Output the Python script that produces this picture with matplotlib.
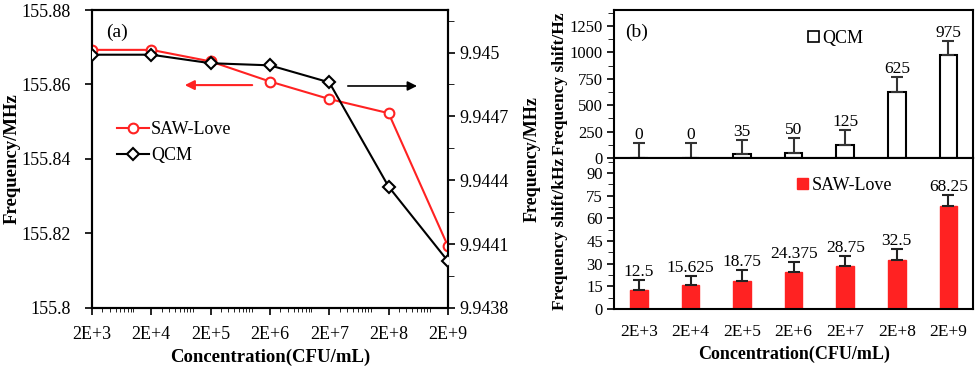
import matplotlib
matplotlib.use('Agg')
import matplotlib.pyplot as plt
from matplotlib.ticker import FixedLocator, MultipleLocator, FuncFormatter, LogLocator, NullFormatter
from matplotlib.patches import Patch
from matplotlib.lines import Line2D

plt.rcParams['font.family'] = ['Liberation Serif', 'DejaVu Serif']

# data
conc = [2e3, 2e4, 2e5, 2e6, 2e7, 2e8, 2e9]
conc_labels = ['2E+3', '2E+4', '2E+5', '2E+6', '2E+7', '2E+8', '2E+9']
saw_freq = [155.8693, 155.8693, 155.8662, 155.8608, 155.8561, 155.8523, 155.8166]
qcm_freq = [9.94499, 9.94499, 9.94495, 9.94494, 9.94486, 9.94437, 9.94402]

qcm_shift = [0, 0, 35, 50, 125, 625, 975]
qcm_err = [145, 145, 140, 143, 140, 138, 135]
saw_shift = [12.5, 15.625, 18.75, 24.375, 28.75, 32.5, 68.25]
saw_err = [7, 6.5, 7, 6.5, 6.5, 7, 7]

RED = '#ff2222'
fmt_g = FuncFormatter(lambda v, p: '%g' % round(v, 6))

fig = plt.figure(figsize=(9.78, 3.71), dpi=100)

# ---- panel (a)
ax1 = fig.add_axes([0.094, 0.170, 0.364, 0.803])
ax2 = ax1.twinx()
ax1.plot(conc, saw_freq, '-o', color=RED, lw=1.5, ms=7, mfc='white', mew=1.5, zorder=3)
ax2.plot(conc, qcm_freq, '-D', color='black', lw=1.5, ms=6, mfc='white', mew=1.5, zorder=3)
ax1.set_xscale('log')
ax1.set_xlim(2e3, 2e9)
ax1.xaxis.set_major_locator(FixedLocator(conc))
ax1.xaxis.set_minor_locator(LogLocator(base=10, subs=range(1, 10), numticks=30))
ax1.xaxis.set_minor_formatter(NullFormatter())
ax1.set_xticklabels(conc_labels)
ax1.set_ylim(155.8, 155.88)
ax1.yaxis.set_major_locator(MultipleLocator(0.02))
ax1.yaxis.set_major_formatter(fmt_g)
ax2.set_ylim(9.9438, 9.9452)
ax2.yaxis.set_major_locator(MultipleLocator(0.0003))
ax2.yaxis.set_minor_locator(MultipleLocator(0.00015))
ax2.yaxis.set_major_formatter(fmt_g)
for a in (ax1, ax2):
    a.tick_params(labelsize=13, width=1.2)
    for s in a.spines.values():
        s.set_linewidth(1.5)
ax1.tick_params(axis='x', which='major', length=5, pad=8)
ax1.tick_params(axis='x', which='minor', length=3)
ax1.tick_params(axis='y', which='major', length=5, pad=10)
ax2.tick_params(axis='y', which='major', length=5)
ax2.tick_params(axis='y', which='minor', length=4)
ax1.set_xlabel('Concentration(CFU/mL)', fontsize=13.5, fontweight='bold')
ax1.xaxis.set_label_coords(0.5, -0.138)
ax1.set_ylabel('Frequency/MHz', fontsize=13.5, fontweight='bold')
ax1.yaxis.set_label_coords(-0.2, 0.5)
ax2.set_ylabel('Frequency/MHz', fontsize=13, fontweight='bold')
ax2.yaxis.set_label_coords(1.213, 0.5)
ax1.text(0.04, 0.926, '(a)', transform=ax1.transAxes, fontsize=14, va='center')
ax1.annotate('', xy=(0.253, 0.748), xytext=(0.458, 0.748), xycoords='axes fraction',
             arrowprops=dict(arrowstyle='-|>', color=RED, lw=1.5, mutation_scale=14))
ax1.annotate('', xy=(0.921, 0.745), xytext=(0.711, 0.745), xycoords='axes fraction',
             arrowprops=dict(arrowstyle='-|>', color='#999999', lw=1.2, mutation_scale=14,
                             fc='black', ec='black'))
handles = [Line2D([], [], color=RED, marker='o', lw=1.5, ms=7, mfc='white', mew=1.5),
           Line2D([], [], color='black', marker='D', lw=1.5, ms=6, mfc='white', mew=1.5)]
ax1.legend(handles, ['SAW-Love', 'QCM'], loc='center left', bbox_to_anchor=(0.07, 0.555),
           frameon=False, fontsize=13, handlelength=1.8, handletextpad=0.1,
           borderaxespad=0, borderpad=0, labelspacing=0.5)

# ---- panel (b)
pos = range(len(conc_labels))
bt = fig.add_axes([0.628, 0.574, 0.367, 0.399])
bb = fig.add_axes([0.628, 0.167, 0.367, 0.407])

bt.bar(pos, qcm_shift, width=0.34, color='white', edgecolor='black', lw=1.5,
       yerr=[[0] * 7, qcm_err], error_kw=dict(ecolor='#333333', elinewidth=1.5, capsize=4, capthick=1.5))
bb.bar(pos, saw_shift, width=0.34, color=RED, edgecolor=RED,
       yerr=[[0] * 7, saw_err], error_kw=dict(ecolor='#222222', elinewidth=1.5, capsize=4, capthick=1.5))

for i, (v, e) in enumerate(zip(qcm_shift, qcm_err)):
    bt.annotate('%g' % v, (i, v + e), xytext=(0, 0), textcoords='offset points',
                ha='center', va='bottom', fontsize=12.5)
for i, (v, e) in enumerate(zip(saw_shift, saw_err)):
    bb.annotate('%g' % v, (i, v + e), xytext=(0, 0), textcoords='offset points',
                ha='center', va='bottom', fontsize=12.5)

bt.set_ylim(0, 1400)
bt.yaxis.set_major_locator(MultipleLocator(250))
bt.yaxis.set_minor_locator(MultipleLocator(125))
bb.set_ylim(0, 100)
bb.yaxis.set_major_locator(MultipleLocator(15))
bb.yaxis.set_minor_locator(MultipleLocator(7.5))
for a in (bt, bb):
    a.set_xlim(-0.48, 6.48)
    a.tick_params(labelsize=12, width=1.2)
    a.tick_params(axis='y', which='major', length=5, pad=3)
    a.tick_params(axis='y', which='minor', length=4)
    for s in a.spines.values():
        s.set_linewidth(1.5)
bt.set_xticks([])
bb.set_xticks(list(pos))
bb.set_xticklabels(conc_labels, fontsize=12.5)
bb.tick_params(axis='x', length=0, pad=11)
bt.set_ylabel('Frequency shift/Hz', fontsize=12.5, fontweight='bold')
bt.yaxis.set_label_coords(-0.13, 0.5)
bb.set_ylabel('Frequency shift/kHz', fontsize=12.5, fontweight='bold')
bb.yaxis.set_label_coords(-0.13, 0.5)
bb.set_xlabel('Concentration(CFU/mL)', fontsize=13, fontweight='bold')
bb.xaxis.set_label_coords(0.5, -0.245)
bt.text(0.03, 0.85, '(b)', transform=bt.transAxes, fontsize=14, va='center')
bt.legend([Patch(facecolor='white', edgecolor='black', lw=1.2)], ['QCM'], loc='center left',
          bbox_to_anchor=(0.54, 0.81), frameon=False, fontsize=13, handlelength=0.6,
          handleheight=0.6, handletextpad=0.2, borderaxespad=0, borderpad=0)
bb.legend([Patch(facecolor=RED, edgecolor=RED)], ['SAW-Love'], loc='center left',
          bbox_to_anchor=(0.51, 0.82), frameon=False, fontsize=13, handlelength=0.6,
          handleheight=0.6, handletextpad=0.2, borderaxespad=0, borderpad=0)

fig.savefig('out.png', dpi=100)
